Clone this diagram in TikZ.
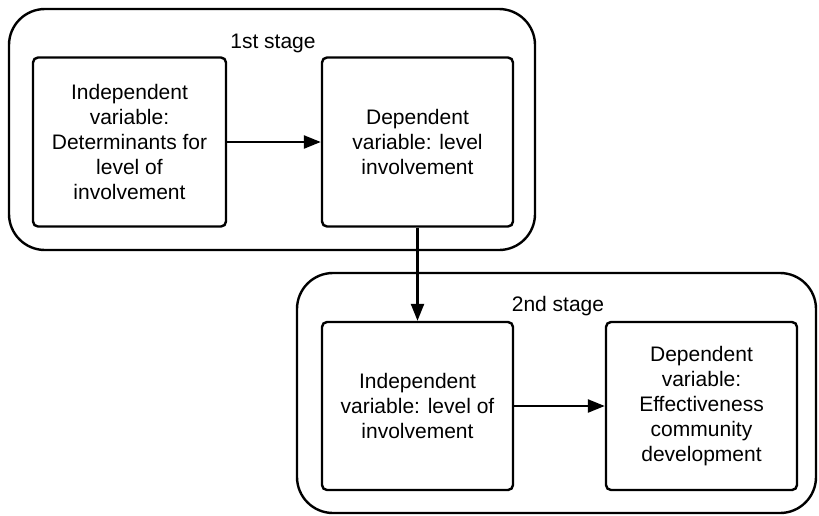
\documentclass[tikz,border=0pt]{standalone}
\usepackage{fontspec}
\setmainfont{Liberation Sans}
\usetikzlibrary{arrows.meta}

\tikzset{stagenode/.style={rectangle, draw, line width=2.4pt, rounded corners=36pt, inner sep=0pt}}
\tikzset{varnode/.style={rectangle, draw, line width=2.4pt, rounded corners=5pt, align=center, inner sep=0pt, font=\fontsize{21}{25}\selectfont}}
\tikzset{labelnode/.style={font=\fontsize{21}{25}\selectfont}}

\begin{document}
\begin{tikzpicture}[x=1pt, y=-1pt, >={Triangle[length=17pt, width=13pt]}]
		\useasboundingbox (0,0) rectangle (819,515);

		%stages
		\node[stagenode, minimum width=526pt, minimum height=241pt] (first) at (272, 129.5) {};
		\node[stagenode, minimum width=519pt, minimum height=240pt] (second) at (556.5, 393) {};

		\node[labelnode] (firstlabel) at (273, 43) {1st stage};
		\node[labelnode] (secondlabel) at (558, 306) {2nd stage};

		%variables
		\node[varnode, minimum width=193pt, minimum height=169pt] (indep) at (129.5, 142) {Independent \\ variable: \\ Determinants for \\ level of \\ involvement};
		\node[varnode, minimum width=191pt, minimum height=169pt] (dep) at (417.5, 142) {Dependent \\ variable: level \\ involvement};
		\node[varnode, minimum width=191pt, minimum height=168pt] (level) at (417.5, 406) {Independent \\ variable: level of \\ involvement};
		\node[varnode, minimum width=191pt, minimum height=168pt] (effect) at (701.5, 406) {Dependent \\ variable: \\ Effectiveness \\ community \\ development};

		%arrows
		\draw[->, line width=2.4pt] (indep) -- (dep);
		\draw[->, line width=2.4pt] (dep) -- (level);
		\draw[->, line width=2.4pt] (level) -- (effect);

	\end{tikzpicture}
\end{document}
